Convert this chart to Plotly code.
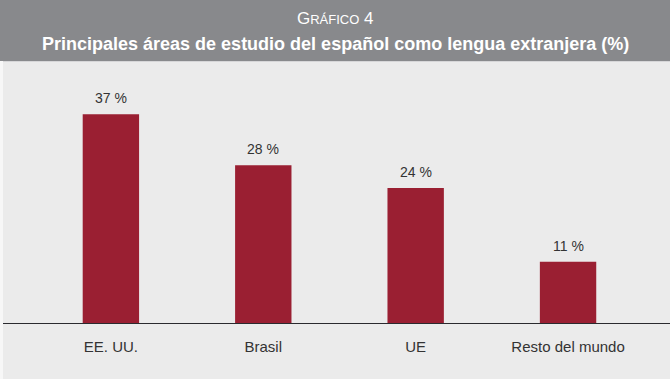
import plotly.graph_objects as go

categories = ["EE. UU.", "Brasil", "UE", "Resto del mundo"]
values = [37, 28, 24, 11]
labels = ["37 %", "28 %", "24 %", "11 %"]

BAR = "#9a1f32"
BG = "#ebebeb"
HEAD = "#88898c"
FONT = "Liberation Sans Narrow, Liberation Sans, Arial"

fig = go.Figure()
fig.add_trace(go.Bar(
    x=categories, y=values, marker=dict(color=BAR, line=dict(width=0)),
    width=0.37, hoverinfo="skip",
))

annotations = [
    dict(text="G<span style='font-size:13px'>RÁFICO</span> 4", xref="paper", yref="paper",
         x=0.5 - 1.5/667, y=1.0 + 43/263, xanchor="center", yanchor="middle", showarrow=False,
         font=dict(family="Liberation Sans, Arial", size=17, color="white")),
    dict(text="<b>Principales áreas de estudio del español como lengua extranjera (%)</b>",
         xref="paper", yref="paper",
         x=0.5 - 1.5/667, y=1.0 + 17/263, xanchor="center", yanchor="middle", showarrow=False,
         font=dict(family=FONT, size=18, color="white")),
]
for c, v, t in zip(categories, values, labels):
    annotations.append(dict(x=c, y=v, text=t, showarrow=False, yanchor="bottom", yshift=6,
                            font=dict(family="Liberation Sans, Arial", size=14, color="#333333")))

fig.update_layout(
    width=670, height=379,
    margin=dict(l=3, r=0, t=61, b=55),
    paper_bgcolor=BG, plot_bgcolor=BG,
    showlegend=False,
    xaxis=dict(range=[-0.708, 3.669], showgrid=False, zeroline=False,
               showline=False, ticks="", ticklabelstandoff=12,
               tickfont=dict(family="Liberation Sans, Arial", size=15, color="#333333"),
               fixedrange=True),
    yaxis=dict(range=[0, 46.4], visible=False, fixedrange=True),
    shapes=[
        dict(type="rect", xref="paper", yref="paper", x0=-0.01, x1=1.01, y0=1.0, y1=1.0 + 61/263,
             fillcolor=HEAD, line=dict(width=0), layer="below"),
        dict(type="line", xref="paper", yref="paper", x0=0, x1=1.01, y0=1.0 - 0.5/263, y1=1.0 - 0.5/263,
             line=dict(color="#d6d6d8", width=1)),
        dict(type="line", xref="paper", yref="y", x0=0, x1=1, y0=0, y1=0,
             line=dict(color="#2a2a2e", width=2)),
        dict(type="rect", xref="paper", yref="paper", x0=-3/667, x1=0, y0=-55/263, y1=1.0,
             fillcolor="#f7f7f7", line=dict(width=0), layer="below"),
    ],
    annotations=annotations,
)

fig.write_html("out.html", config={"displayModeBar": False},
               post_script="document.body.style.margin='0';")
